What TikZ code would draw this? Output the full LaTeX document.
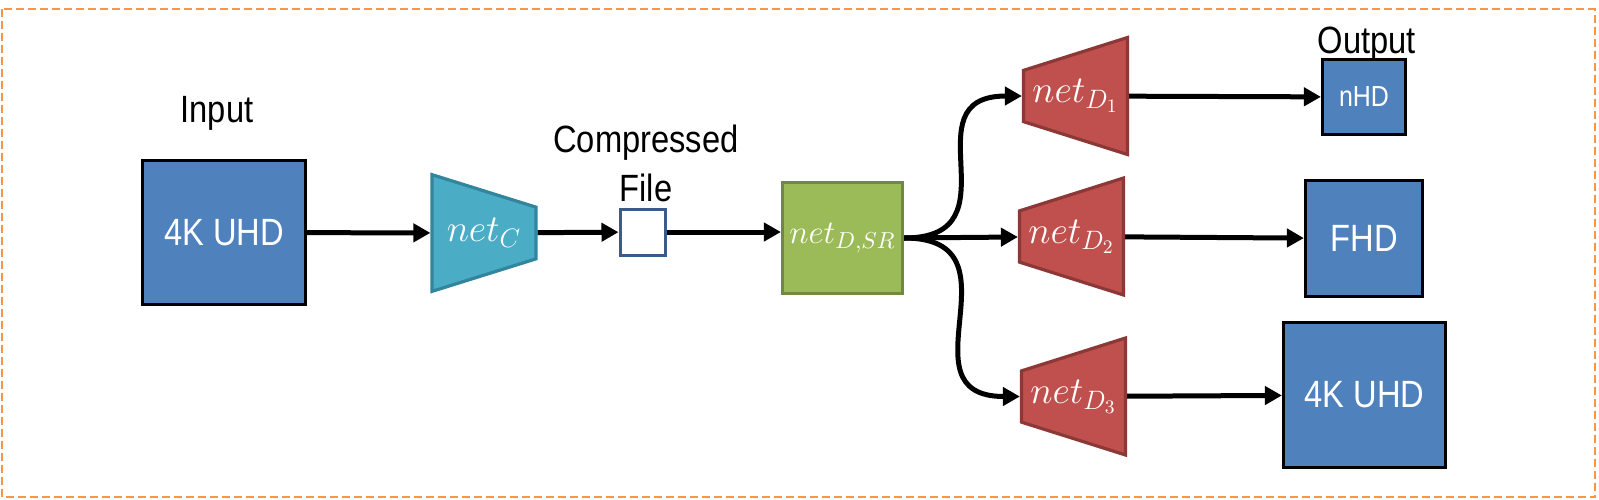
\RequirePackage{fix-cm}
\documentclass[tikz,border=0pt]{standalone}
\usepackage[no-math]{fontspec}
\setmainfont{Liberation Sans}[FakeStretch=0.86]
\usetikzlibrary{arrows.meta,shapes.geometric}

\definecolor{boxblue}{HTML}{4F81BD}
\definecolor{encfill}{HTML}{4BACC6}
\definecolor{encline}{HTML}{31859C}
\definecolor{decfill}{HTML}{C0504D}
\definecolor{decline}{HTML}{8C3836}
\definecolor{srfill}{HTML}{9BBB59}
\definecolor{srline}{HTML}{71893F}
\definecolor{fileline}{HTML}{385D8A}
\definecolor{frameorange}{HTML}{F79646}

\begin{document}
\begin{tikzpicture}[x=0.5pt,y=-0.5pt,
  res/.style={draw=black,line width=1.6pt,fill=boxblue,text=white,inner sep=0pt,
    font=\fontsize{19}{22}\selectfont},
  trap/.style={trapezium,trapezium stretches=true,trapezium angle=76.2,
    minimum width=58.5pt,minimum height=52pt,inner sep=0pt,line width=1.6pt,
    text=white,font=\fontsize{19}{22}\selectfont},
  link/.style={line width=2.5pt,-{Triangle[length=8.5pt,width=9pt]}},
  caption/.style={anchor=base,inner sep=0pt,font=\fontsize{19}{22}\selectfont}]
\useasboundingbox (0,0) rectangle (1599,499);

% the dashed frame
\draw[frameorange,line width=1pt,dash pattern=on 4pt off 2pt] (1.7,9.3) rectangle (1595,497.3);

% input and the encoder
\node[res,minimum width=81.5pt,minimum height=72pt] (in4K) at (224,232.5) {4K UHD};
\node[trap,shape border rotate=270,draw=encline,fill=encfill] (netC) at (484,233) {$net_C$};
\node[draw=fileline,line width=1.5pt,fill=white,minimum width=22.5pt,minimum height=23pt] (file) at (642.5,232) {};
\node[draw=srline,line width=1.6pt,fill=srfill,text=white,minimum width=60pt,minimum height=55.5pt,
  inner sep=0pt,font=\fontsize{16.5}{19}\selectfont] (netSR) at (842.5,238) {$net_{D,SR}$};

% the decoders
\foreach \n/\x/\y in {1/1075.5/96,2/1071.5/236.5,3/1073.5/396.5}
  \node[trap,shape border rotate=90,draw=decline,fill=decfill] (D\n) at (\x,\y) {$net_{D_\n}$};

% the outputs
\node[res,minimum width=41.5pt,minimum height=37.5pt,font=\fontsize{14.5}{17}\selectfont] (out1) at (1364,97) {nHD};
\node[res,minimum width=58.5pt,minimum height=58pt] (out2) at (1364,238.5) {FHD};
\node[res,minimum width=81pt,minimum height=72.5pt] (out3) at (1364.5,395) {4K UHD};

% the arrows
\draw[link] (in4K) -- (netC);
\draw[link] (netC) -- (file);
\draw[link] (file.east) -- (file.east -| netSR.west);
\draw[link] (netSR.east) to[out=0,in=180,looseness=1.6] (D1);
\draw[link] (netSR.east) -- (D2);
\draw[link] (netSR.east) to[out=0,in=180,looseness=1.6] (D3);
\foreach \n in {1,2,3}
  \draw[link] (D\n) -- (out\n);

% labels
\node[caption] (inlabel) at (217,122) {Input};
\node[caption] (filelabel) at (646,152) {Compressed};
\node[caption] (filelabel2) at (646,201) {File};
\node[caption] (outlabel) at (1367,53) {Output};
\end{tikzpicture}
\end{document}
